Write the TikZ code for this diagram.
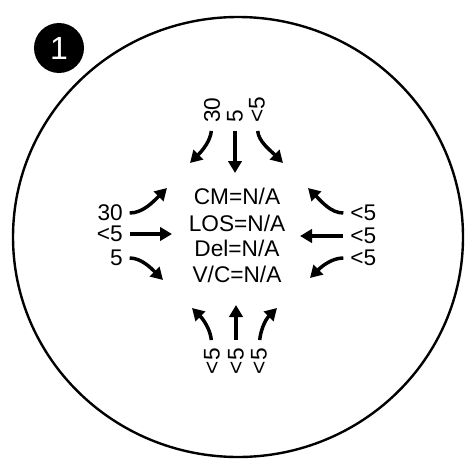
\documentclass[tikz,border=0pt]{standalone}
\usepackage{fontspec}
\setmainfont{Liberation Sans}
\usetikzlibrary{arrows.meta}

\begin{document}
\begin{tikzpicture}[x=0.75pt, y=0.75pt,
  txt/.style={inner sep=0pt, font=\fontsize{17}{20}\selectfont},
  flow/.style={line width=2.6pt, -{Triangle[length=9pt, width=10pt]}},
  badge/.style={circle, fill=black, minimum size=37.5pt, inner sep=0pt,
    text=white, font=\fontsize{24}{24}\selectfont}]
\useasboundingbox (0,0) rectangle (466,458);

% outer ring
\draw[line width=1.8pt] (238,221) ellipse [x radius=225, y radius=220];

% number badge
\node[badge] (num) at (59,410) {1};

% center values
\node[txt] (cm) at (237,262) {CM=N/A};
\node[txt] (los) at (237,235) {LOS=N/A};
\node[txt] (del) at (237,210) {Del=N/A};
\node[txt] (vc) at (237,184) {V/C=N/A};

% top approach
\node[txt, rotate=90, anchor=west] (tl) at (212,335) {30};
\node[txt, rotate=90, anchor=west] (tm) at (235,335) {5};
\node[txt, rotate=90, anchor=west] (tr) at (257,335) {<5};
\coordinate (tl-e) at (190,295);
\coordinate (tm-e) at (235,285);
\coordinate (tr-e) at (283,295);
\draw[flow, shorten <=6pt] (tl.west) to[out=-95, in=45] (tl-e);
\draw[flow, shorten <=6pt] (tm.west) -- (tm-e);
\draw[flow, shorten <=6pt] (tr.west) to[out=-85, in=135] (tr-e);

% left approach
\node[txt, anchor=east] (lt) at (123,245) {30};
\node[txt, anchor=east] (lm) at (123,224) {<5};
\node[txt, anchor=east] (lb) at (123,200) {5};
\coordinate (lt-e) at (167,270);
\coordinate (lm-e) at (172,224);
\coordinate (lb-e) at (163,178);
\draw[flow, shorten <=5pt] (lt.east) to[out=0, in=-135] (lt-e);
\draw[flow, shorten <=5pt] (lm.east) -- (lm-e);
\draw[flow, shorten <=5pt] (lb.east) to[out=0, in=135] (lb-e);

% right approach
\node[txt, anchor=west] (rt) at (350,245) {<5};
\node[txt, anchor=west] (rm) at (350,222) {<5};
\node[txt, anchor=west] (rb) at (350,200) {<5};
\coordinate (rt-e) at (308,270);
\coordinate (rm-e) at (300,222);
\coordinate (rb-e) at (310,180);
\draw[flow, shorten <=5pt] (rt.west) to[out=180, in=-45] (rt-e);
\draw[flow, shorten <=5pt] (rm.west) -- (rm-e);
\draw[flow, shorten <=5pt] (rb.west) to[out=180, in=45] (rb-e);

% bottom approach
\node[txt, rotate=90, anchor=east] (bl) at (212,110) {<5};
\node[txt, rotate=90, anchor=east] (bm) at (236,110) {<5};
\node[txt, rotate=90, anchor=east] (br) at (259,110) {<5};
\coordinate (bl-e) at (192,150);
\coordinate (bm-e) at (236,153);
\coordinate (br-e) at (277,150);
\draw[flow, shorten <=6pt] (bl.east) to[out=95, in=-45] (bl-e);
\draw[flow, shorten <=6pt] (bm.east) -- (bm-e);
\draw[flow, shorten <=6pt] (br.east) to[out=85, in=-135] (br-e);
\end{tikzpicture}
\end{document}
